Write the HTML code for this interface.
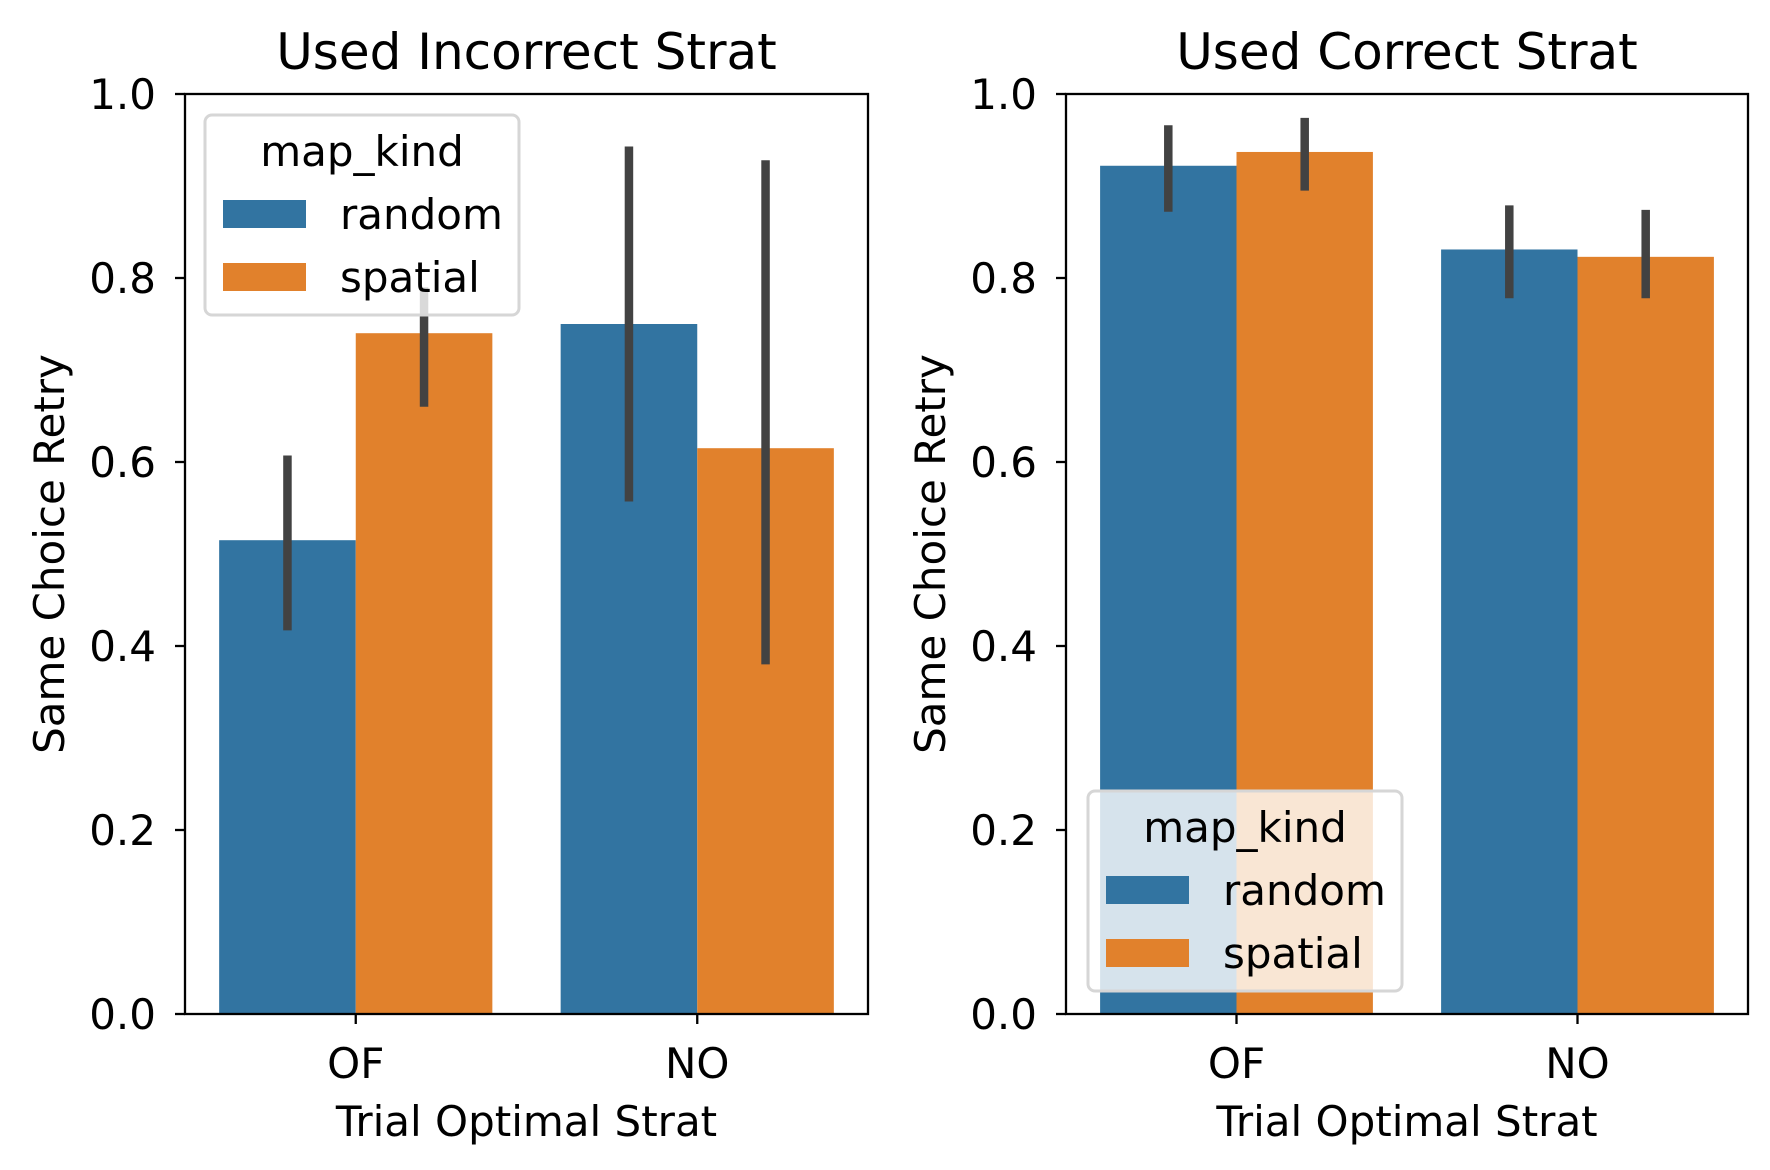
<!DOCTYPE html>
<html><head><meta charset="utf-8"><style>
html,body{margin:0;padding:0;background:#fff}
svg{display:block;font-family:"DejaVu Sans","Liberation Sans",sans-serif}
</style></head><body>
<svg id="chart" width="1770" height="1170" viewBox="0 0 1770 1170"></svg>
<script>
const categories = ["OF", "NO"];
const hues = ["random", "spatial"];
const titles = ["Used Incorrect Strat", "Used Correct Strat"];
const incorrectValues = [[0.515, 0.74], [0.75, 0.615]];
const incorrectLow = [[0.417, 0.66], [0.557, 0.38]];
const incorrectHigh = [[0.607, 0.79], [0.943, 0.928]];
const correctValues = [[0.922, 0.937], [0.831, 0.823]];
const correctLow = [[0.872, 0.895], [0.778, 0.778]];
const correctHigh = [[0.966, 0.974], [0.879, 0.874]];
const yTicks = [0, 0.2, 0.4, 0.6, 0.8, 1.0];
const yTickLabels = ["0.0", "0.2", "0.4", "0.6", "0.8", "1.0"];

const colors = ["#3274a1", "#e1812c"];
const NS = "http://www.w3.org/2000/svg";
const svg = document.getElementById("chart");
function mk(tag, attrs, parent, text) {
  const e = document.createElementNS(NS, tag);
  for (const k in attrs) e.setAttribute(k, attrs[k]);
  if (text !== undefined) e.textContent = text;
  (parent || svg).appendChild(e);
  return e;
}
const axTop = 94, axBottom = 1014;
const FS = 42;
const panels = [
  {x0: 185, x1: 868, vals: incorrectValues, lo: incorrectLow, hi: incorrectHigh, legend: {x: 205, y: 115}},
  {x0: 1066, x1: 1748, vals: correctValues, lo: correctLow, hi: correctHigh, legend: {x: 1088, y: 791}}
];
panels.forEach((p, pi) => {
  const g = mk("g", {});
  
  
  const yS = v => axBottom - v * (axBottom - axTop);
  const cw = (p.x1 - p.x0) / categories.length;
  const xC = i => p.x0 + cw * (i + 0.5);
  const bw = cw * 0.8 / hues.length;
  categories.forEach((c, ci) => {
    hues.forEach((h, hi) => {
      const v = p.vals[ci][hi];
      const bx = xC(ci) - cw * 0.4 + hi * bw;
      const r = mk("rect", {x: bx, y: yS(v), width: bw, height: yS(0) - yS(v), fill: colors[hi]}, g);
      
      
    });
  });
  categories.forEach((c, ci) => {
    hues.forEach((h, hi) => {
      const cx = xC(ci) - cw * 0.4 + (hi + 0.5) * bw;
      const l = mk("line", {x1: cx, x2: cx, y1: yS(p.lo[ci][hi]), y2: yS(p.hi[ci][hi]), stroke: "#424242", "stroke-width": 8.5}, g);
      
      
    });
  });
  const frame = mk("rect", {x: p.x0, y: axTop, width: p.x1 - p.x0, height: axBottom - axTop, fill: "none", stroke: "#000", "stroke-width": 2.3}, g);
  
  
  yTicks.forEach((t, ti) => {
    const y = yS(t);
    mk("line", {x1: p.x0 - 10, x2: p.x0, y1: y, y2: y, stroke: "#000", "stroke-width": 2.3}, g);
    const tl = mk("text", {x: p.x0 - 29, y: y + 15, "text-anchor": "end", "font-size": FS}, g, yTickLabels[ti]);
    
    
  });
  categories.forEach((c, ci) => {
    const x = xC(ci);
    mk("line", {x1: x, x2: x, y1: axBottom, y2: axBottom + 10, stroke: "#000", "stroke-width": 2.3}, g);
    const tl = mk("text", {x: x, y: 1078, "text-anchor": "middle", "font-size": FS}, g, c);
    
    
  });
  const xl = mk("text", {x: (p.x0 + p.x1) / 2, y: 1136, "text-anchor": "middle", "font-size": FS}, g, "Trial Optimal Strat");
  
  
  const ylx = p.x0 - 121;
  const yl = mk("text", {x: ylx, y: 554, "text-anchor": "middle", "font-size": FS, transform: "rotate(-90 " + ylx + " 554)"}, g, "Same Choice Retry");
  
  
  const tt = mk("text", {x: (p.x0 + p.x1) / 2, y: 69, "text-anchor": "middle", "font-size": 50}, g, titles[pi]);
  
  
  const L = p.legend;
  const lg = mk("g", {}, g);
  
  
  mk("rect", {x: L.x, y: L.y, width: 314, height: 200, rx: 7, fill: "rgba(255,255,255,0.8)", stroke: "#d6d6d6", "stroke-width": 3}, lg);
  const lt = mk("text", {x: L.x + 157, y: L.y + 51, "text-anchor": "middle", "font-size": FS}, lg, "map_kind");
  
  
  hues.forEach((h, hi) => {
    const ey = L.y + 99 + hi * 63;
    const sw = mk("rect", {x: L.x + 18, y: ey - 14, width: 83, height: 28, fill: colors[hi]}, lg);
    
    
    const et = mk("text", {x: L.x + 135, y: ey + 15, "font-size": FS}, lg, h);
    
    
  });
});
</script>
</body></html>
